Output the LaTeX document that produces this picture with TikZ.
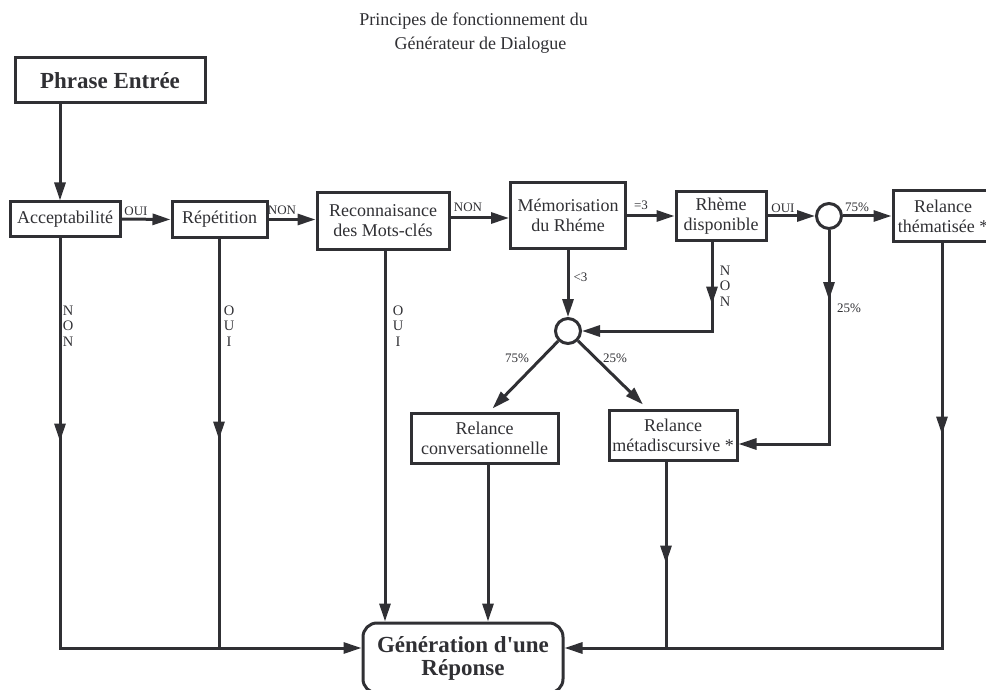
\documentclass[tikz,border=0pt]{standalone}
\usepackage{fontspec}
\setmainfont{Liberation Serif}[Ligatures=TeXOff]
\usetikzlibrary{arrows.meta,decorations.markings}
\definecolor{ink}{RGB}{48,48,52}
\begin{document}
\begin{tikzpicture}[x=1pt,y=-1pt, line width=3pt, color=ink,
  box/.style={draw, rectangle, inner sep=0pt, font=\fontsize{18}{20}\selectfont, align=center},
  tip/.style={-{Triangle[length=18pt,width=11pt]}},
  mid/.style={postaction={decorate}, decoration={markings, mark=at position #1 with {\arrow{Triangle[length=18pt,width=11pt]}}}},
  lab/.style={font=\fontsize{13}{13}\selectfont, inner sep=0pt},
  vlab/.style={font=\fontsize{14.5}{15.5}\selectfont, align=center, inner sep=0pt},
  junc/.style={draw, circle, minimum size=25pt, inner sep=0pt},
  title/.style={font=\fontsize{18}{18}\selectfont, anchor=base, inner sep=0pt}]
\useasboundingbox (0,0) rectangle (986,690);

% title
\node[title] (t1) at (473.5,26) {Principes de fonctionnement du};
\node[title] (t2) at (480.5,50) {Générateur de Dialogue};

% boxes
\node[box, minimum width=190pt, minimum height=45pt, font=\bfseries\fontsize{23}{23}\selectfont] (pe) at (110,80.5) {Phrase Entrée};
\node[box, minimum width=110pt, minimum height=34pt] (acc) at (65,219) {Acceptabilité};
\node[box, minimum width=95pt, minimum height=35pt] (rep) at (219.5,219.5) {Répétition};
\node[box, minimum width=132pt, minimum height=56pt] (rec) at (383,221) {Reconnaisance\\des Mots-clés};
\node[box, minimum width=115pt, minimum height=65pt] (mem) at (568,215.5) {Mémorisation\\du Rhéme};
\node[box, minimum width=90pt, minimum height=48pt] (rhe) at (721,216) {Rhème\\disponible};
\node[junc] (c1) at (829,216) {};
\node[box, minimum width=100pt, minimum height=50pt] (the) at (943,216) {Relance\\thématisée *};
\node[junc] (c2) at (568,331) {};
\node[box, minimum width=147pt, minimum height=50pt] (conv) at (484.5,438) {Relance\\conversationnelle};
\node[box, minimum width=128pt, minimum height=50pt] (meta) at (673,435) {Relance\\métadiscursive *};
\node[box, rounded corners=14pt, minimum width=200pt, minimum height=70pt, font=\bfseries\fontsize{23}{23}\selectfont] (gen) at (463,658) {Génération d'une\\Réponse};

% labels
\node[lab] (l1) at (136,211) {OUI};
\node[lab] (l2) at (282,210) {NON};
\node[lab] (l3) at (468,207) {NON};
\node[lab] (l4) at (641,205) {=3};
\node[lab] (l5) at (783,208) {OUI};
\node[lab] (l6) at (857,207) {75\%};
\node[lab, anchor=west] (l7) at (572,277) {<3};
\node[lab] (l8) at (849,308) {25\%};
\node[lab] (l9) at (517,358) {75\%};
\node[lab] (l10) at (615,358) {25\%};
\node[vlab] (v1) at (68,326) {N\\O\\N};
\node[vlab] (v2) at (229,326) {O\\U\\I};
\node[vlab] (v3) at (398,326) {O\\U\\I};
\node[vlab] (v4) at (725,286) {N\\O\\N};

% columns / rows
\coordinate (xa) at (60,0);
\coordinate (xr) at (219,0);
\coordinate (xk) at (385,0);
\coordinate (xc) at (488,0);
\coordinate (xm) at (666,0);
\coordinate (xt) at (942,0);
\coordinate (xn) at (712,0);
\coordinate (yb) at (0,648);
\coordinate (yk) at (0,218);

% connectors
\draw[tip] (pe.south -| xa) -- (acc.north -| xa);
\draw[tip] (acc.east) -- (rep.west);
\draw[tip] (rep.east) -- (rep.east -| rec.west);
\draw[tip] (rec.east |- yk) -- (mem.west |- yk);
\draw[tip] (mem.east |- rhe.west) -- (rhe.west);
\draw[tip] (rhe.east) -- (c1.west);
\draw[tip] (c1.east) -- (the.west);
\draw[tip] (mem.south) -- (c2.north);
\draw[tip, mid=63pt] (rhe.south -| xn) |- (c2.east);
\draw[tip, mid=70pt] (c1.south) |- ([yshift=-9pt]meta.east);
\draw[tip] (c2) -- ([xshift=8pt,yshift=3pt]conv.north);
\draw[tip] (c2) -- ([xshift=-30pt,yshift=4pt]meta.north);
\draw[tip, mid=204pt] (acc.south -| xa) -- (xa |- yb) -- (gen.west |- yb);
\draw[mid=201pt] (rep.south -| xr) -- (xr |- yb);
\draw[tip] (rec.south -| xk) -- (gen.north -| xk);
\draw[tip] (conv.south -| xc) -- (gen.north -| xc);
\draw[mid=102pt] (meta.south -| xm) -- (xm |- yb);
\draw[tip, mid=192pt] (the.south -| xt) -- (xt |- yb) -- (gen.east |- yb);
\end{tikzpicture}
\end{document}
